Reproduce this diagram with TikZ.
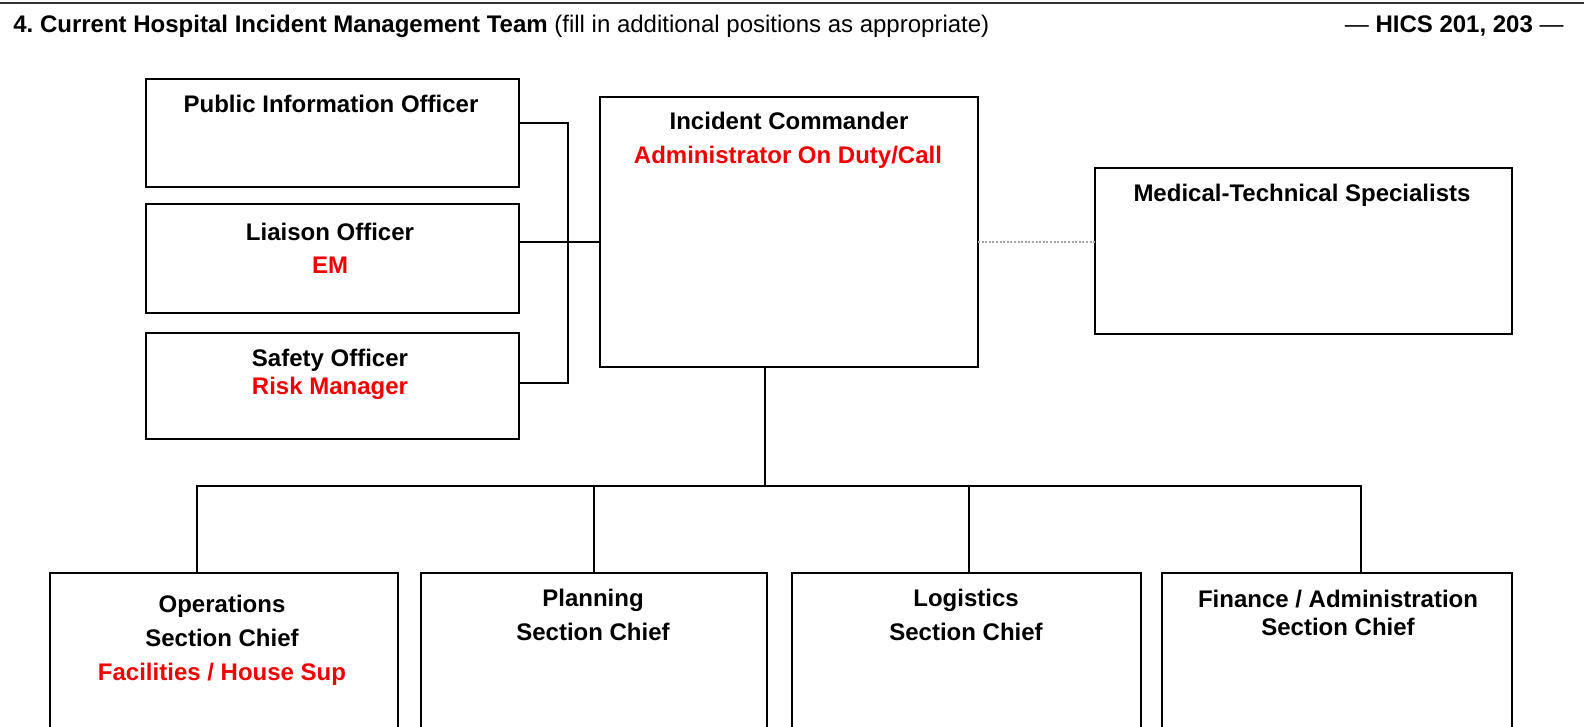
\documentclass[tikz,border=0pt]{standalone}
\usepackage{fontspec}
\setmainfont{Liberation Sans}
\usetikzlibrary{calc}
\definecolor{rd}{RGB}{240,0,0}
\frenchspacing
\begin{document}
\begin{tikzpicture}[x=0.5pt,y=-0.5pt,
  box/.style={draw, line width=0.8pt, inner sep=0pt, outer sep=0pt, anchor=north west},
  conn/.style={draw, line width=0.8pt},
  dotconn/.style={draw, line width=0.6pt, gray!70, dash pattern=on 1pt off 0.8pt},
  txt/.style={inner sep=0pt, anchor=base, font=\fontsize{12}{14}\selectfont\bfseries},
  rtxt/.style={txt, text=rd}]
\clip (0,0) rectangle (1584,727);
\fill[white] (0,0) rectangle (1584,727);
% top rule and header
\draw[line width=1.2pt, black!80] (0,3) -- (1584,3);
\node[inner sep=0pt, anchor=base west, font=\fontsize{12}{14}\selectfont] (hdr) at (13,33)
  {\bfseries 4. Current Hospital Incident Management Team\mdseries\ (fill in additional positions as appropriate)};
\node[inner sep=0pt, anchor=base east, font=\fontsize{12}{14}\selectfont] (hics) at (1564,33)
  {— \textbf{HICS 201, 203} —};
% boxes
\node[box, minimum width=186.5pt, minimum height=54pt] (pio) at (146,79) {};
\node[box, minimum width=186.5pt, minimum height=54.5pt] (lia) at (146,204) {};
\node[box, minimum width=186.5pt, minimum height=53pt] (saf) at (146,333) {};
\node[box, minimum width=189pt, minimum height=135pt] (ic) at (600,97) {};
\node[box, minimum width=208.5pt, minimum height=83pt] (mts) at (1095,168) {};
\node[box, minimum width=174pt, minimum height=85pt] (ops) at (50,573) {};
\node[box, minimum width=173pt, minimum height=85pt] (pla) at (421,573) {};
\node[box, minimum width=174.5pt, minimum height=85pt] (log) at (792,573) {};
\node[box, minimum width=175pt, minimum height=85pt] (fin) at (1162,573) {};
% texts
\node[txt] (pio1) at (331,113) {Public Information Officer};
\node[txt] (lia1) at (330,241) {Liaison Officer};
\node[rtxt] (lia2) at (330,273) {EM};
\node[txt] (saf1) at (330,366) {Safety Officer};
\node[rtxt] (saf2) at (330,394) {Risk Manager};
\node[txt] (ic1) at (789,130) {Incident Commander};
\node[rtxt] (ic2) at (788,164) {Administrator On Duty/Call};
\node[txt] (mts1) at (1302,202) {Medical-Technical Specialists};
\node[txt] (ops1) at (222,612) {Operations};
\node[txt] (ops2) at (222,646) {Section Chief};
\node[rtxt] (ops3) at (222,680) {Facilities / House Sup};
\node[txt] (pla1) at (593,606) {Planning};
\node[txt] (pla2) at (593,640) {Section Chief};
\node[txt] (log1) at (966,606) {Logistics};
\node[txt] (log2) at (966,640) {Section Chief};
\node[txt] (fin1) at (1338,607) {Finance / Administration};
\node[txt] (fin2) at (1338,635) {Section Chief};
% command staff bracket
\coordinate (brT) at ($(pio.north east)+(49,44)$);
\coordinate (brB) at ($(saf.north east)+(49,50)$);
\draw[conn] ($(pio.north east)+(0,44)$) -- (brT) -- (brB) -- ($(saf.north east)+(0,50)$);
\draw[conn] ($(lia.north east)+(0,38)$) -- ($(ic.north west)+(0,145)$);
% dotted link to specialists
\draw[dotconn] ($(ic.north east)+(0,145)$) -- ($(mts.north west)+(0,74)$);
% general staff tree
\coordinate (stem) at ($(ic.south west)+(165,0)$);
\coordinate (bus) at ($(stem)+(0,119)$);
\draw[conn] (stem) -- (bus);
\draw[conn] ($(ops.north west)+(147,0)$) |- ($(fin.north west)+(199,-87)$) -- ($(fin.north west)+(199,0)$);
\draw[conn] (pla.north) -- (pla.north |- bus);
\draw[conn] ($(log.north)+(2.5,0)$) -- ($(log.north)+(2.5,-87)$);
\end{tikzpicture}
\end{document}
